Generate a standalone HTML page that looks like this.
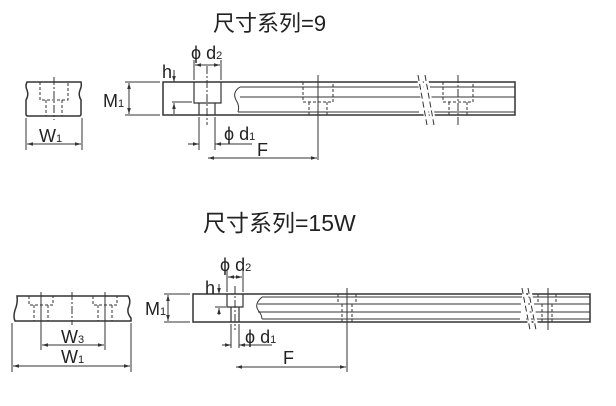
<!DOCTYPE html>
<html><head><meta charset="utf-8"><style>
html,body{margin:0;padding:0;background:#fff;width:616px;height:406px;overflow:hidden}
svg{display:block}
text{font-family:"Liberation Sans","Noto Sans CJK SC",sans-serif;fill:#222}
.t{font-size:22px}
.t2{font-size:23px}
.l{font-size:18px}
.s{font-size:11px}
</style></head><body>
<svg width="616" height="406" viewBox="0 0 616 406" xmlns="http://www.w3.org/2000/svg">
<defs>
<marker id="a" viewBox="0 0 10 10" refX="10" refY="5" markerWidth="6" markerHeight="6" orient="auto-start-reverse"><path d="M0,2 L10,5 L0,8 z" fill="#333"/></marker>
</defs>
<g stroke="#333" fill="none" stroke-width="1">
<path d="M27,82 L81,82 Q82,86 80,90 Q78,95 81,100 L81,114 Q81,116 79,116 L28,116 Q26,116 26,114 L26,100 Q29,95 27,90 Q25,86 27,82 Z" stroke-width="1.5"/>
<path d="M40,82 V100 H68 V82 M46,100 V116 M62,100 V116" stroke-dasharray="3,2"/>
<line x1="54" y1="77" x2="54" y2="120" stroke-dasharray="8,2,2,2"/>
<line x1="26" y1="118" x2="26" y2="150"/><line x1="82" y1="118" x2="82" y2="150"/>
<line x1="27" y1="144" x2="81" y2="144" marker-start="url(#a)" marker-end="url(#a)"/>
<path d="M163,82 H515 V115 H163 Z" stroke-width="1.5"/>
<path d="M240,87 H424 M430,87 H515 M240,97 H422 M428,97 H515 M238,112 H419 M425,112 H515" />
<path d="M240,87 Q232,92 236,100 Q240,106 238,112"/>
<path d="M194,82 V103 H221 V82 M199,103 V115 M215,103 V115" stroke-width="1.2"/>
<line x1="207" y1="66" x2="207" y2="125" stroke-dasharray="8,2,2,2"/>
<path d="M303,82 V102 H333 V82 M309,102 V115 M327,102 V115 M443,82 V102 H473 V82 M449,102 V115 M467,102 V115" stroke-dasharray="3,2"/>
<line x1="318" y1="75" x2="318" y2="160"/><line x1="458" y1="75" x2="458" y2="125" stroke-dasharray="8,2,2,2"/>
<path d="M419,75 L428,125 M425,75 L434,125" stroke="#fff" stroke-width="5"/>
<path d="M418,75 L427,125 M425,75 L434,125" stroke-dasharray="6,3"/>
<line x1="194" y1="60" x2="194" y2="80"/><line x1="221" y1="60" x2="221" y2="80"/>
<line x1="195" y1="65" x2="220" y2="65" marker-start="url(#a)" marker-end="url(#a)"/>
<line x1="125" y1="82" x2="160" y2="82"/><line x1="125" y1="115" x2="160" y2="115"/>
<line x1="129" y1="83" x2="129" y2="114" marker-start="url(#a)" marker-end="url(#a)"/>
<line x1="172" y1="102" x2="192" y2="102"/>
<line x1="174" y1="70" x2="174" y2="82" marker-end="url(#a)"/>
<line x1="174" y1="114" x2="174" y2="103" marker-end="url(#a)"/>
<line x1="199" y1="117" x2="199" y2="150"/><line x1="215" y1="117" x2="215" y2="150"/>
<line x1="188" y1="144" x2="199" y2="144" marker-end="url(#a)"/>
<line x1="252" y1="144" x2="215" y2="144" marker-end="url(#a)"/>
<line x1="208" y1="158" x2="317" y2="158" marker-start="url(#a)" marker-end="url(#a)"/>

<path d="M17,296 L128,296 Q131,300 129,306 Q126,312 131,318 L131,321 L15,321 Q13,317 15,310 Q18,303 17,296 Z" stroke-width="1.5"/>
<path d="M29,296 V305 H53 V296 M34,305 V321 M48,305 V321 M93,296 V305 H117 V296 M98,305 V321 M112,305 V321" stroke-dasharray="3,2"/>
<line x1="41" y1="292" x2="41" y2="350"/><line x1="105" y1="292" x2="105" y2="350"/>
<line x1="72" y1="292" x2="72" y2="325" stroke-dasharray="8,2,2,2"/>
<line x1="42" y1="345" x2="104" y2="345" marker-start="url(#a)" marker-end="url(#a)"/>
<line x1="12" y1="323" x2="12" y2="372"/><line x1="131" y1="323" x2="131" y2="372"/>
<line x1="13" y1="366" x2="130" y2="366" marker-start="url(#a)" marker-end="url(#a)"/>
<path d="M193,294 H590 V322 H193 Z" stroke-width="1.5"/>
<path d="M262,297 H522 M528,297 H590 M258,304 H521 M527,304 H590 M258,312 H521 M527,312 H590 M262,319 H520 M526,319 H590"/>
<path d="M262,297 Q254,304 258,310 Q262,315 262,319"/>
<path d="M227,294 V307 H243 V294 M231,307 V322 M239,307 V322" stroke-width="1.2"/>
<line x1="235" y1="286" x2="235" y2="330" stroke-dasharray="8,2,2,2"/>
<path d="M338,294 V304 H356 V294 M342,304 V322 M352,304 V322 M538,294 V304 H556 V294 M542,304 V322 M552,304 V322" stroke-dasharray="3,2"/>
<line x1="347" y1="288" x2="347" y2="372"/><line x1="548" y1="288" x2="548" y2="330"/>
<path d="M523,288 L531,330 M529,288 L537,330" stroke="#fff" stroke-width="4"/>
<path d="M522,288 L530,330 M528,288 L536,330" stroke-dasharray="6,3"/>
<line x1="227" y1="270" x2="227" y2="292"/><line x1="243" y1="270" x2="243" y2="292"/>
<line x1="228" y1="277" x2="242" y2="277" marker-start="url(#a)" marker-end="url(#a)"/>
<line x1="164" y1="294" x2="190" y2="294"/><line x1="164" y1="322" x2="190" y2="322"/>
<line x1="168" y1="295" x2="168" y2="321" marker-start="url(#a)" marker-end="url(#a)"/>
<line x1="215" y1="307" x2="226" y2="307"/>
<line x1="219" y1="284" x2="219" y2="294" marker-end="url(#a)"/>
<line x1="219" y1="315" x2="219" y2="308" marker-end="url(#a)"/>
<line x1="231" y1="324" x2="231" y2="348"/><line x1="239" y1="324" x2="239" y2="348"/>
<line x1="222" y1="345" x2="231" y2="345" marker-end="url(#a)"/>
<line x1="272" y1="345" x2="239" y2="345" marker-end="url(#a)"/>
<line x1="236" y1="367" x2="346" y2="367" marker-start="url(#a)" marker-end="url(#a)"/>
</g>
<text x="213" y="31" class="t">尺寸系列=9</text>
<text x="203" y="231" class="t2">尺寸系列=15W</text>
<text x="39" y="142" class="l">W<tspan class="s">1</tspan></text>
<text x="103" y="107" class="l">M<tspan class="s">1</tspan></text>
<text x="162" y="78" class="l">h</text>
<text x="191" y="59" class="l">ϕ d<tspan class="s">2</tspan></text>
<text x="224" y="140" class="l">ϕ d<tspan class="s">1</tspan></text>
<text x="257" y="156" class="l">F</text>
<text x="61" y="343" class="l">W<tspan class="s">3</tspan></text>
<text x="61" y="363" class="l">W<tspan class="s">1</tspan></text>
<text x="145" y="315" class="l">M<tspan class="s">1</tspan></text>
<text x="205" y="294" class="l">h</text>
<text x="220" y="271" class="l">ϕ d<tspan class="s">2</tspan></text>
<text x="245" y="343" class="l">ϕ d<tspan class="s">1</tspan></text>
<text x="283" y="364" class="l">F</text>
</svg>
</body></html>
